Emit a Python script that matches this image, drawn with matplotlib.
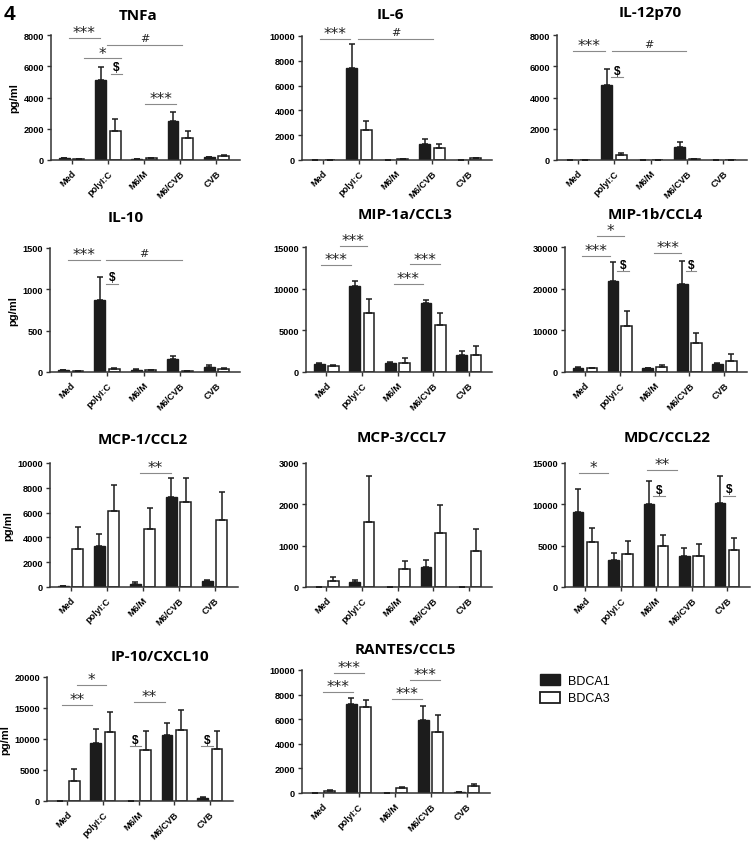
import matplotlib
matplotlib.use('Agg')
import matplotlib.pyplot as plt
from matplotlib.patches import Patch
import numpy as np

# ==============================================================================
# DATA (pg/ml, mean and SEM)
# ==============================================================================

groups = ['Med', 'polyI:C', 'M6/M', 'M6/CVB', 'CVB']

tnfa_b1 = [100, 5150, 80, 2480, 190]
tnfa_b1_sem = [20, 820, 15, 620, 30]
tnfa_b3 = [80, 1860, 100, 1390, 230]
tnfa_b3_sem = [15, 750, 20, 450, 120]

il6_b1 = [30, 7390, 30, 1260, 30]
il6_b1_sem = [10, 1940, 10, 460, 10]
il6_b3 = [30, 2390, 80, 970, 150]
il6_b3_sem = [10, 760, 20, 290, 50]

il12_b1 = [0, 4790, 0, 830, 0]
il12_b1_sem = [0, 1030, 0, 325, 0]
il12_b3 = [0, 300, 0, 60, 0]
il12_b3_sem = [0, 170, 0, 20, 0]

il10_b1 = [20, 876, 30, 154, 57]
il10_b1_sem = [5, 271, 5, 41, 28]
il10_b3 = [10, 35, 25, 10, 35]
il10_b3_sem = [3, 10, 5, 3, 10]

mip1a_b1 = [1005, 10375, 1126, 8245, 2050]
mip1a_b1_sem = [125, 525, 74, 445, 480]
mip1a_b3 = [724, 7080, 1126, 5670, 2050]
mip1a_b3_sem = [161, 1690, 564, 1450, 1090]

mip1b_b1 = [1045, 21960, 885, 21150, 1930]
mip1b_b1_sem = [155, 4420, 150, 5390, 320]
mip1b_b3 = [885, 10940, 1200, 7080, 2650]
mip1b_b3_sem = [160, 3620, 490, 2250, 1610]

mcp1_b1 = [100, 3320, 270, 7240, 480]
mcp1_b1_sem = [20, 970, 130, 1530, 110]
mcp1_b3 = [3080, 6090, 4660, 6840, 5390]
mcp1_b3_sem = [1770, 2140, 1720, 1930, 2280]

mcp3_b1 = [0, 120, 0, 490, 0]
mcp3_b1_sem = [0, 40, 0, 153, 0]
mcp3_b3 = [137, 1570, 426, 1300, 860]
mcp3_b3_sem = [103, 1125, 201, 690, 550]

mdc_b1 = [9050, 3220, 10050, 3700, 10170]
mdc_b1_sem = [2810, 880, 2820, 1040, 3300]
mdc_b3 = [5430, 4020, 4950, 3780, 4420]
mdc_b3_sem = [1690, 1490, 1360, 1370, 1490]

ip10_b1 = [0, 9355, 60, 10590, 480]
ip10_b1_sem = [0, 2205, 10, 2040, 110]
ip10_b3 = [3230, 11130, 8170, 11400, 8330]
ip10_b3_sem = [1880, 3280, 3070, 3220, 3010]

rantes_b1 = [30, 7220, 30, 5920, 80]
rantes_b1_sem = [10, 480, 10, 1130, 20]
rantes_b3 = [160, 7030, 380, 5000, 540]
rantes_b3_sem = [80, 540, 110, 1350, 220]

# significance marks: (label, x start, x end, y)
tnfa_sig = [('***', -0.07, 0.78, 7786), ('*', 0.33, 1.35, 6500), ('#', 0.98, 3.05, 7360),
            ('$', 1.08, 1.40, 5500), ('***', 2.03, 2.88, 3570)]
il6_sig = [('***', -0.08, 0.75, 9785), ('#', 0.98, 3.02, 9785)]
il12_sig = [('***', -0.13, 0.75, 7000), ('#', 0.94, 2.97, 7000), ('$', 0.92, 1.24, 5290)]
il10_sig = [('***', -0.08, 0.80, 1350), ('#', 0.98, 3.06, 1350), ('$', 0.98, 1.30, 1066)]
mip1a_sig = [('***', -0.16, 0.69, 12790), ('***', 0.38, 1.13, 15080),
             ('***', 1.89, 2.71, 10580), ('***', 2.36, 3.19, 12910)]
mip1b_sig = [('***', -0.07, 0.71, 27750), ('*', 0.34, 1.13, 32650), ('***', 1.99, 2.76, 28630),
             ('$', 0.93, 1.26, 24130), ('$', 2.89, 3.20, 24130)]
mcp1_sig = [('**', 1.93, 2.78, 9200)]
mcp3_sig = []
mdc_sig = [('*', -0.18, 0.64, 13790), ('**', 1.75, 2.58, 14150),
           ('$', 1.92, 2.26, 10980), ('$', 3.89, 4.22, 11060)]
ip10_sig = [('**', -0.16, 0.70, 15540), ('*', 0.27, 1.09, 18760), ('**', 1.88, 2.73, 15970),
            ('$', 1.75, 2.06, 8820), ('$', 3.76, 4.10, 8820)]
rantes_sig = [('***', 0.02, 0.84, 8220), ('***', 0.32, 1.15, 9730),
              ('***', 1.93, 2.76, 7620), ('***', 2.42, 3.25, 9160)]

# ==============================================================================
# LAYOUT (pixels: left, top, right, bottom / title centre)
# ==============================================================================

W, H = 754, 845
panels = [
    ('TNFa', tnfa_b1, tnfa_b1_sem, tnfa_b3, tnfa_b3_sem, tnfa_sig, 8000, 2000,
     (51, 36, 240, 161), (138, 16), True),
    ('IL-6', il6_b1, il6_b1_sem, il6_b3, il6_b3_sem, il6_sig, 10000, 2000,
     (302, 37, 492, 161), (390, 15), False),
    ('IL-12p70', il12_b1, il12_b1_sem, il12_b3, il12_b3_sem, il12_sig, 8000, 2000,
     (557, 36, 747, 161), (650, 13), False),
    ('IL-10', il10_b1, il10_b1_sem, il10_b3, il10_b3_sem, il10_sig, 1500, 500,
     (50, 249, 240, 373), (126, 218), True),
    ('MIP-1a/CCL3', mip1a_b1, mip1a_b1_sem, mip1a_b3, mip1a_b3_sem, mip1a_sig, 15000, 5000,
     (306, 248, 492, 373), (405, 215), False),
    ('MIP-1b/CCL4', mip1b_b1, mip1b_b1_sem, mip1b_b3, mip1b_b3_sem, mip1b_sig, 30000, 10000,
     (565, 248, 747, 373), (655, 215), False),
    ('MCP-1/CCL2', mcp1_b1, mcp1_b1_sem, mcp1_b3, mcp1_b3_sem, mcp1_sig, 10000, 2000,
     (50, 464, 238, 588), (143, 440), True),
    ('MCP-3/CCL7', mcp3_b1, mcp3_b1_sem, mcp3_b3, mcp3_b3_sem, mcp3_sig, 3000, 1000,
     (306, 464, 492, 588), (402, 438), False),
    ('MDC/CCL22', mdc_b1, mdc_b1_sem, mdc_b3, mdc_b3_sem, mdc_sig, 15000, 5000,
     (565, 464, 750, 588), (667, 438), False),
    ('IP-10/CXCL10', ip10_b1, ip10_b1_sem, ip10_b3, ip10_b3_sem, ip10_sig, 20000, 5000,
     (47, 678, 233, 802), (160, 657), True),
    ('RANTES/CCL5', rantes_b1, rantes_b1_sem, rantes_b3, rantes_b3_sem, rantes_sig, 10000, 2000,
     (302, 671, 490, 794), (405, 650), False),
]

TICK_FONT = 'Liberation Sans'
TITLE_FONT = 'Open Sans'

fig = plt.figure(figsize=(W / 100, H / 100), dpi=100)
fig.text(9 / W, 1 - 14 / H, '4', fontsize=15, fontweight='bold', family=TICK_FONT,
         ha='center', va='center')

x = np.arange(len(groups))
bw = 0.3
off = 0.2

for (title, b1, b1e, b3, b3e, sig, ymax, ystep, box, tpos, ylab) in panels:
    l, t, r, b = box
    ax = fig.add_axes([l / W, 1 - b / H, (r - l) / W, (b - t) / H])

    ax.bar(x - off, b1, bw, color='#1c1c1c', edgecolor='#1c1c1c', linewidth=1.0, zorder=2)
    ax.bar(x + off, b3, bw, color='white', edgecolor='#1c1c1c', linewidth=1.1, zorder=2)
    ax.errorbar(x - off, b1, yerr=[np.zeros(len(b1)), b1e], fmt='none', ecolor='#1c1c1c',
                elinewidth=1.1, capsize=2.5, capthick=1.1, zorder=3)
    ax.errorbar(x + off, b3, yerr=[np.zeros(len(b3)), b3e], fmt='none', ecolor='#1c1c1c',
                elinewidth=1.1, capsize=2.5, capthick=1.1, zorder=3)

    ax.set_xlim(-0.57, 4.65)
    ax.set_ylim(0, ymax)
    ax.set_yticks(np.arange(0, ymax + 1, ystep))
    ax.set_xticks(x)
    ax.set_xticklabels(groups, rotation=45, ha='right', rotation_mode='anchor')
    for lab in ax.get_xticklabels() + ax.get_yticklabels():
        lab.set_fontsize(6.6)
        lab.set_fontweight('bold')
        lab.set_family(TICK_FONT)
    ax.tick_params(axis='both', length=3, width=1.0, color='#333333', pad=2)
    ax.tick_params(axis='x', pad=3)

    for s in ['top', 'right']:
        ax.spines[s].set_visible(False)
    for s in ['left', 'bottom']:
        ax.spines[s].set_linewidth(1.1)
        ax.spines[s].set_color('#333333')

    if ylab:
        ax.set_ylabel('pg/ml', fontsize=8, fontweight='bold', family=TICK_FONT, labelpad=3)

    for lab, x0, x1, y in sig:
        ax.plot([x0, x1], [y, y], color='#8a8a8a', linewidth=0.8, clip_on=False, zorder=4)
        if lab == '$':
            ax.annotate(lab, ((x0 + x1) / 2, y), xytext=(0, 0.5), textcoords='offset points',
                        ha='center', va='bottom', fontsize=8.5, fontweight='bold',
                        family=TICK_FONT, annotation_clip=False)
        elif lab == '#':
            ax.annotate(lab, ((x0 + x1) / 2, y), xytext=(0, 1.5), textcoords='offset points',
                        ha='center', va='bottom', fontsize=8, family='DejaVu Sans',
                        color='#222222', annotation_clip=False)
        else:
            ax.annotate(lab, ((x0 + x1) / 2, y), xytext=(0, -1.5), textcoords='offset points',
                        ha='center', va='bottom', fontsize=11, family='DejaVu Sans',
                        color='#222222', annotation_clip=False)

    fig.text(tpos[0] / W, 1 - tpos[1] / H, title, fontsize=11, fontweight='bold',
             family=TITLE_FONT, ha='center', va='center')

handles = [Patch(facecolor='#1c1c1c', edgecolor='#1c1c1c', label='BDCA1'),
           Patch(facecolor='white', edgecolor='#1c1c1c', linewidth=1.3, label='BDCA3')]
fig.legend(handles=handles, loc='upper left', bbox_to_anchor=(529 / W, 1 - 664 / H),
           frameon=False, prop={'family': TICK_FONT, 'size': 9},
           handlelength=1.6, handleheight=1.0, labelspacing=0.35, handletextpad=0.6)

fig.savefig('out.png', dpi=100)
